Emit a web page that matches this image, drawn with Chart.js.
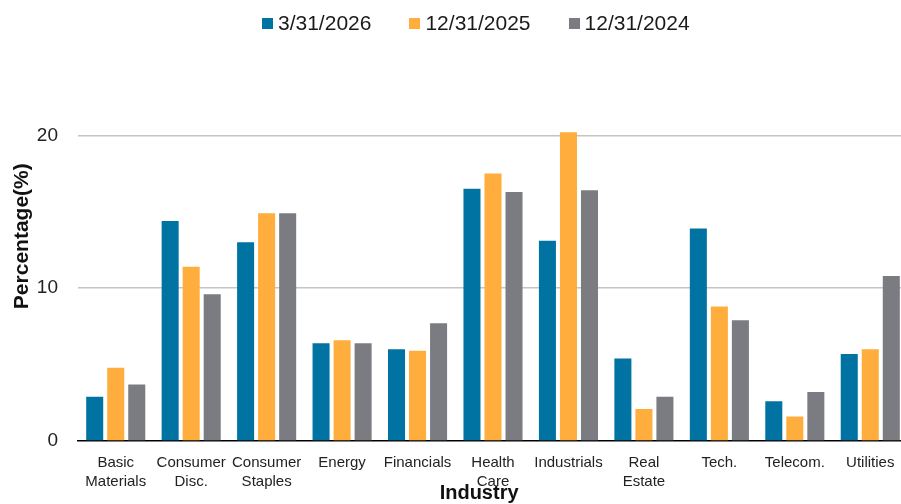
<!DOCTYPE html>
<html>
<head>
<meta charset="utf-8">
<script src="https://cdn.jsdelivr.net/npm/chart.js@4/dist/chart.umd.min.js"></script>
<style>
  html, body { margin: 0; padding: 0; background: #fff; overflow: hidden; width: 901px; height: 504px; }
  #wrap { position: relative; width: 908px; height: 504px; }
  #legend { position: absolute; left: 262px; top: 11px; display: flex; gap: 38px;
            font-family: "Liberation Sans", Arial, sans-serif; font-size: 21px; line-height: 24px; color: #1a1a1a; }
  #legend .item { display: flex; align-items: center; }
  #legend .box { width: 11px; height: 11px; margin-right: 5px; }
</style>
</head>
<body>
<div id="wrap">
  <canvas id="chart" width="908" height="504"></canvas>
  <div id="legend"></div>
</div>
<script>
// values
const categories = [['Basic','Materials'],['Consumer','Disc.'],['Consumer','Staples'],'Energy','Financials',
                    ['Health','Care'],'Industrials',['Real','Estate'],'Tech.','Telecom.','Utilities'];
const seriesNames = ['3/31/2026','12/31/2025','12/31/2024'];
const s2026 = [2.9, 14.4, 13.0, 6.4, 6.0, 16.5, 13.1, 5.4, 13.9, 2.6, 5.7];
const s2025 = [4.8, 11.4, 14.9, 6.6, 5.9, 17.5, 20.2, 2.1, 8.8, 1.6, 6.0];
const s2024 = [3.7, 9.6, 14.9, 6.4, 7.7, 16.3, 16.4, 2.9, 7.9, 3.2, 10.8];
const yTicks = [0, 10, 20];
const colors = ['#0073A3','#FFAD3C','#7A7C81'];

const font = "'Liberation Sans', Arial, sans-serif";
let allData = [s2026, s2025, s2024];

let datasets = allData.map(function(d, i){
    return {
        label: seriesNames[i],
        data: d,
        backgroundColor: colors[i],
        categoryPercentage: 0.836,
        barPercentage: 0.81
    };
});

var myChart = new Chart("chart", {
    type: "bar",
    data: { labels: categories, datasets: datasets },
    options: {
        responsive: false,
        animation: false,
        layout: { padding: { top: 29, left: 0, right: 0, bottom: 0 } },
        plugins: { legend: { display: false }, tooltip: { enabled: false } },
        scales: {
            x: {
                grid: { display: false, drawTicks: false },
                border: { display: true, color: '#000', width: 1.5 },
                ticks: { color: '#222', font: { family: font, size: 15, lineHeight: 1.24 }, padding: 13, maxRotation: 0, autoSkip: false },
                // trailing spaces pull the centred title a bit left, like the reference
                title: { display: true, text: 'Industry     ', color: '#111', font: { family: font, size: 20, weight: 'bold' }, padding: { top: 0, bottom: -1 } },
                afterFit: function(scale){ scale.height = 63; }
            },
            y: {
                min: 0,
                max: 26.8,
                afterBuildTicks: function(scale){ scale.ticks = yTicks.map(v => ({ value: v })); },
                grid: { color: c => c.tick && c.tick.value === 0 ? 'rgba(0,0,0,0)' : '#c4c4c4', lineWidth: 1.5, drawTicks: false },
                border: { display: false },
                ticks: { color: '#222', font: { family: font, size: 19 }, padding: 20 },
                title: { display: true, text: 'Percentage(%)', color: '#111', font: { family: font, size: 21, weight: 'bold' }, padding: { top: 10, bottom: 0 } },
                afterFit: function(scale){ scale.width = 78; }
            }
        }
    }
});

// html legend from the datasets
let legendHtml = '';
myChart.data.datasets.forEach(function(ds){
    legendHtml += `<div class="item"><span class="box" style="background:${ds.backgroundColor}"></span><span>${ds.label}</span></div>`;
});
document.getElementById('legend').innerHTML = legendHtml;
</script>
</body>
</html>
